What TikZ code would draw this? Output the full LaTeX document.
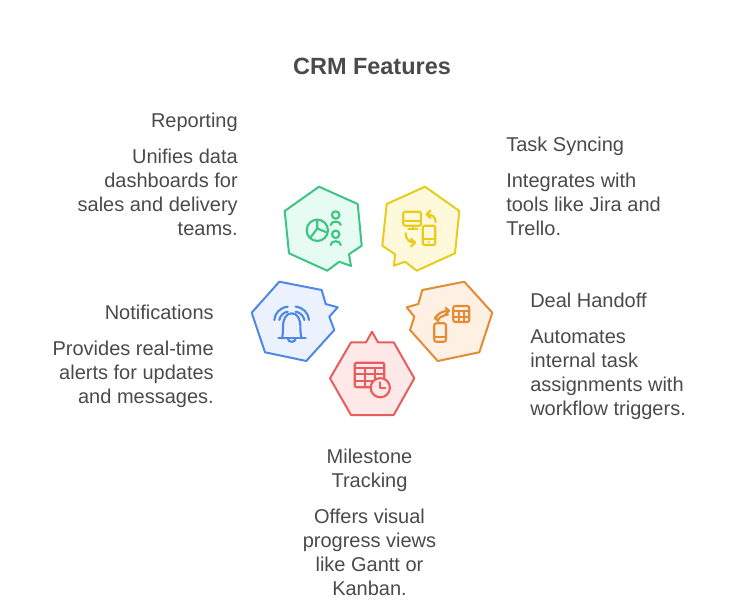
\documentclass[tikz,border=0pt]{standalone}
\usepackage{fontspec}
\setmainfont{Liberation Sans}
\definecolor{txt}{HTML}{4A4A4A}
\definecolor{gs}{HTML}{3CC583}\definecolor{gf}{HTML}{E6FBF1}
\definecolor{ys}{HTML}{E8CC1C}\definecolor{yf}{HTML}{FEF9DB}
\definecolor{os}{HTML}{E48B35}\definecolor{of}{HTML}{FEF0E3}
\definecolor{bs}{HTML}{4E88E7}\definecolor{bf}{HTML}{EBF2FE}
\definecolor{rs}{HTML}{E85C5C}\definecolor{rf}{HTML}{FEE8E8}
\tikzset{
  badge/.style={line width=1.5pt,line join=round},
  icon/.style={line width=1.6pt,line join=round,line cap=round},
  body/.style={text=txt,inner sep=0pt,font=\fontsize{15pt}{18pt}\selectfont},
  bodyl/.style={body,align=left,anchor=north west},
  bodyr/.style={body,align=right,anchor=north east},
  bodyc/.style={body,align=center,anchor=north},
}
\begin{document}
\begin{tikzpicture}[x=0.75pt,y=-0.75pt]
\useasboundingbox (0,0) rectangle (741,605);
\node[text=txt,inner sep=0pt,anchor=base,font=\fontsize{17.6pt}{22pt}\selectfont\bfseries] (title) at (372,75) {CRM Features};
% badges
\draw[badge,draw=gs,fill=gf] (319,186.7)--(357.7,204)--(361.7,245.7)--(349,254.3)--(351,266)--(339.3,261.7)--(327.3,270.7)--(289,253.3)--(284.7,211)--cycle;
\draw[badge,draw=ys,fill=yf] (425,186.7)--(459.3,211)--(455,253.3)--(416.7,270.7)--(405,261.7)--(394,265.7)--(395,254.3)--(382.3,245.7)--(386.7,204)--cycle;
\draw[badge,draw=os,fill=of] (464.3,281.7)--(492.3,312.7)--(479.3,352.3)--(437.7,361)--(410,330)--(414.3,316.7)--(406.7,307.3)--(418.3,304)--(422.3,290)--cycle;
\draw[badge,draw=bs,fill=bf] (279.3,281.7)--(321.7,290)--(325.7,304)--(337.7,307.3)--(329.3,316.7)--(334.3,330)--(306.3,361)--(265,352.3)--(251.7,312.7)--cycle;
\draw[badge,draw=rs,fill=rf] (372,331.7)--(378,342.3)--(393.7,342.3)--(414.3,378.3)--(393.7,415)--(351,415)--(330,378.3)--(351,342.3)--(366,342.3)--cycle;
% green icon
\begin{scope}[icon,draw=gs]
\draw (317.3,230.3) circle[radius=8pt];
\draw (317.3,219.6)--(317.3,228.5)--(327,232.5) (317.3,228.5)--(310.5,237.5);
\draw (335.7,215) circle[radius=2.8pt];
\draw (335.7,234.3) circle[radius=2.8pt];
\draw (330.7,225) .. controls (330.7,220.5) and (340.7,220.5) .. (340.7,225);
\draw (330.7,245) .. controls (330.7,240) and (340.7,240) .. (340.7,245);
\end{scope}
% yellow icon
\begin{scope}[icon,draw=ys]
\draw[rounded corners=1.5pt] (403.3,211.7) rectangle (421,225.7);
\draw (403.3,221)--(421,221) (412.7,225.7)--(412.7,229) (408.3,229)--(417.3,229);
\draw[rounded corners=1.5pt] (422.7,225.7) rectangle (435.3,245);
\draw (422.7,239)--(435.3,239);
\fill[ys] (429,242) circle[radius=0.9pt];
\draw (435.7,222.3) .. controls (435.7,217) and (432,214.3) .. (426.7,214.3);
\draw (430.5,210.5)--(426.7,214.3)--(430.5,218);
\draw (405.7,233.3) .. controls (405.7,239) and (409,242.7) .. (415,242.7);
\draw (411,238.8)--(415,242.7)--(411,246.5);
\end{scope}
% orange icon
\begin{scope}[icon,draw=os]
\draw[rounded corners=1.5pt] (453.3,306) rectangle (469.3,322);
\draw (453.3,311.3)--(469.3,311.3) (453.3,316.7)--(469.3,316.7) (459,311.3)--(459,322) (464,311.3)--(464,322);
\draw[rounded corners=1.5pt] (434.3,323.3) rectangle (446,341.7);
\draw (434.3,336.7)--(446,336.7);
\draw (435,318.3) .. controls (438,313) and (443,311) .. (449,310.7);
\draw (445.5,308)--(449,310.7)--(446,313.8);
\draw (438.5,321)--(435,318.3)--(438,315);
\draw (438,319.5) .. controls (441,316) and (445,315) .. (448,314.5);
\end{scope}
% blue icon
\begin{scope}[icon,draw=bs]
\draw (278.3,338.3)--(305.7,338.3);
\draw (282,338.3) .. controls (283,334) and (283,330) .. (283,327) .. controls (283,319) and (286,313.3) .. (291.7,313.3) .. controls (297.4,313.3) and (300.4,319) .. (300.4,327) .. controls (300.4,330) and (300.4,334) .. (301.7,338.3);
\draw (287.7,338.3) .. controls (288,343) and (295.5,343) .. (295.7,338.3);
\draw (274.3,320) .. controls (275,313) and (280,307.5) .. (287.7,306.7);
\draw (279.3,320) .. controls (280,316) and (283,312.5) .. (287.7,311.7);
\draw (309,320) .. controls (308.3,313) and (303.3,307.5) .. (295.7,306.7);
\draw (304.3,320) .. controls (303.6,316) and (300.5,312.5) .. (295.7,311.7);
\end{scope}
% red icon
\begin{scope}[icon,draw=rs]
\draw[rounded corners=1.5pt] (354.7,362.7) rectangle (384.3,387.3);
\draw (354.7,368.3)--(384.3,368.3) (354.7,374.3)--(384.3,374.3) (354.7,380.7)--(374,380.7) (365.3,368.3)--(365.3,387.3) (374.7,368.3)--(374.7,380);
\draw[fill=rf] (380.3,387.7) circle[radius=7.2pt];
\draw (380.3,382.3)--(380.3,387.7)--(385.3,387.7);
\end{scope}
% texts
\node[bodyr] (rt) at (238,110.2) {\strut Reporting};
\node[bodyr] (rd) at (238,146.2) {\strut Unifies data\\dashboards for\\sales and delivery\\teams.};
\node[bodyl] (tt) at (506,134.2) {\strut Task Syncing};
\node[bodyl] (td) at (506,170.2) {\strut Integrates with\\tools like Jira and\\Trello.};
\node[bodyl] (dt) at (530,290.2) {\strut Deal Handoff};
\node[bodyl] (dd) at (530,326.2) {\strut Automates\\internal task\\assignments with\\workflow triggers.};
\node[bodyr] (nt) at (214,302.2) {\strut Notifications};
\node[bodyr] (nd) at (214,338.2) {\strut Provides real-time\\alerts for updates\\and messages.};
\node[bodyc] (mt) at (369.5,446.2) {\strut Milestone\\Tracking};
\node[bodyc] (md) at (369.5,506.2) {\strut Offers visual\\progress views\\like Gantt or\\Kanban.};
\end{tikzpicture}
\end{document}
